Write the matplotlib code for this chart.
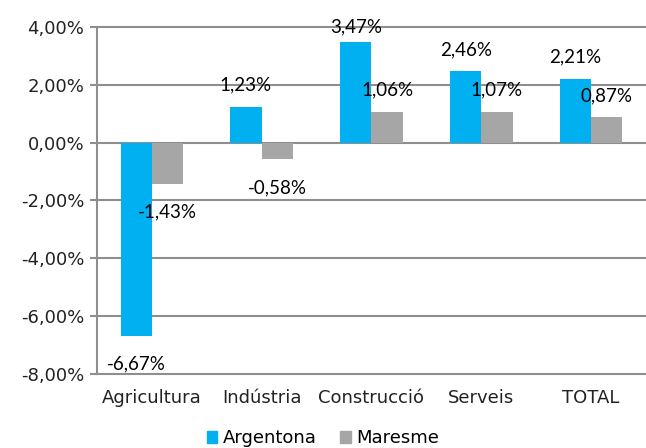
import matplotlib
matplotlib.use('Agg')
import matplotlib.pyplot as plt
import matplotlib.patches as mpatches
import numpy as np

categories = ['Agricultura', 'Indústria', 'Construcció', 'Serveis', 'TOTAL']
argentona = [-6.67, 1.23, 3.47, 2.46, 2.21]
maresme = [-1.43, -0.58, 1.06, 1.07, 0.87]
series_names = ['Argentona', 'Maresme']
yticks = [-8, -6, -4, -2, 0, 2, 4]

cyan = '#00B0F0'
grey = '#A6A6A6'
line_col = '#8E8E8E'

plt.rcParams['font.family'] = 'DejaVu Sans'


def pct(v):
    return f"{v:.2f}%".replace('.', ',')


fig = plt.figure(figsize=(6.46, 4.48), dpi=100)
ax = fig.add_axes([0.150, 0.165, 0.850, 0.775])

x = np.arange(len(categories))
w = 0.285
b1 = ax.bar(x - w / 2, argentona, w, color=cyan, zorder=3)
b2 = ax.bar(x + w / 2, maresme, w, color=grey, zorder=3)

ax.set_xlim(-0.5, len(categories) - 0.5)
ax.set_ylim(-8, 4)

# data labels a bit away from the bar end, kept inside the plot area
ymin, ymax = ax.get_ylim()
px_per_unit = fig.get_figheight() * fig.dpi * 0.775 / (ymax - ymin)
for bars, vals in ((b1, argentona), (b2, maresme)):
    for rect, v in zip(bars, vals):
        cx = rect.get_x() + rect.get_width() / 2
        if v >= 0:
            ly = min(v + 22 / px_per_unit, ymax)
        else:
            ly = max(v - 28 / px_per_unit, ymin)
        ax.text(cx, ly, pct(v), ha='center', va='center', fontsize=13.5,
                family='Lato', color='black', zorder=5)

ax.set_yticks(yticks)
ax.set_yticklabels([pct(t) for t in yticks])
ax.set_xticks(x)
ax.set_xticklabels(categories)

ax.yaxis.grid(True, color=line_col, linewidth=1.5, zorder=0)
for g in ax.yaxis.get_gridlines():
    g.set_clip_on(False)
ax.set_axisbelow(True)

for s in ('top', 'right', 'bottom'):
    ax.spines[s].set_visible(False)
ax.spines['left'].set_color(line_col)
ax.spines['left'].set_linewidth(1.5)

ax.tick_params(axis='y', length=5, width=1.5, color=line_col, labelsize=13, pad=4,
               labelcolor='#222222')
ax.tick_params(axis='x', length=0, labelsize=13, pad=11, labelcolor='#222222')

handles = [mpatches.Patch(color=cyan, label=series_names[0]),
           mpatches.Patch(color=grey, label=series_names[1])]
fig.legend(handles=handles, loc='center', bbox_to_anchor=(0.5, 0.022), ncol=2,
           frameon=False, fontsize=13, handlelength=0.6, handleheight=0.6,
           handletextpad=0.3, columnspacing=1.3, borderaxespad=0)

fig.savefig('out.png', dpi=100)
